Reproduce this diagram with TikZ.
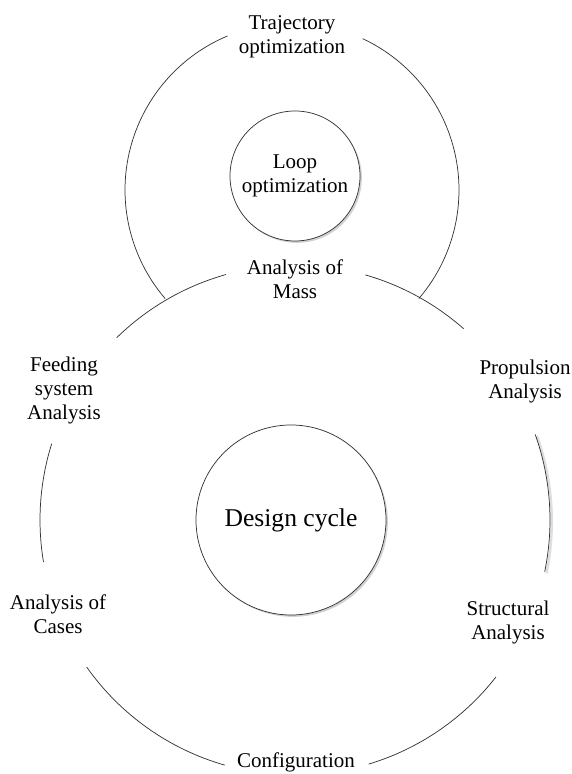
\documentclass[tikz,border=0pt]{standalone}
\usepackage{fontspec}
\setmainfont{Liberation Serif}
\usetikzlibrary{shadows}
\begin{document}
\begin{tikzpicture}[x=0.75pt,y=0.75pt,
  ring/.style={draw=black!80, line width=0.55pt},
  shadearc/.style={draw=black!13, line width=1.8pt},
  lbl/.style={font=\fontsize{15.75}{18}\selectfont, align=center, inner sep=0pt},
  hub/.style={circle, draw=black!80, line width=0.55pt, fill=white,
    drop shadow={shadow xshift=1.4pt, shadow yshift=-1.4pt, fill=black!18, opacity=1},
    align=center, inner sep=0pt}]
\useasboundingbox (0,0) rectangle (571,774);
\coordinate (B) at (295,254);
\coordinate (T) at (292,584);
% upper (trajectory) ring
\draw[ring] ([shift={(112.7:167)}]T) arc[start angle=112.7, end angle=220.6, radius=167];
\draw[ring] ([shift={(-40.6:167)}]T) arc[start angle=-40.6, end angle=65, radius=167];
% lower (design) ring
\draw[shadearc] ([shift={(-11.7:255)}]B) ++(1.8,-1.5) arc[start angle=-11.7, end angle=19.6, radius=255];
\draw[ring] ([shift={(105.7:255)}]B) arc[start angle=105.7, end angle=134.4, radius=255];
\draw[ring] ([shift={(162.6:255)}]B) arc[start angle=162.6, end angle=189.5, radius=255];
\draw[ring] ([shift={(215.2:255)}]B) arc[start angle=215.2, end angle=254, radius=255];
\draw[ring] ([shift={(286.8:255)}]B) arc[start angle=286.8, end angle=322, radius=255];
\draw[ring] ([shift={(-11.7:255)}]B) arc[start angle=-11.7, end angle=19.6, radius=255];
\draw[ring] ([shift={(48.6:255)}]B) arc[start angle=48.6, end angle=74, radius=255];
% hubs
\node[hub, minimum size=97.5pt, font=\fontsize{15.75}{18}\selectfont] (loop) at (295,598) {Loop\\optimization};
\node[hub, minimum size=142.5pt, font=\fontsize{19.2}{22}\selectfont] (design) at (291,254) {Design cycle};
% labels
\node[lbl] (traj) at (292,737) {Trajectory\\optimization};
\node[lbl] (mass) at (295,495) {Analysis of\\Mass};
\node[lbl] (feed) at (64,384) {Feeding\\system\\Analysis};
\node[lbl] (prop) at (525,393) {Propulsion\\Analysis};
\node[lbl] (cases) at (58,160) {Analysis of\\Cases};
\node[lbl] (struct) at (508,152) {Structural\\Analysis};
\node[lbl] (config) at (296,12) {Configuration};
\end{tikzpicture}
\end{document}
